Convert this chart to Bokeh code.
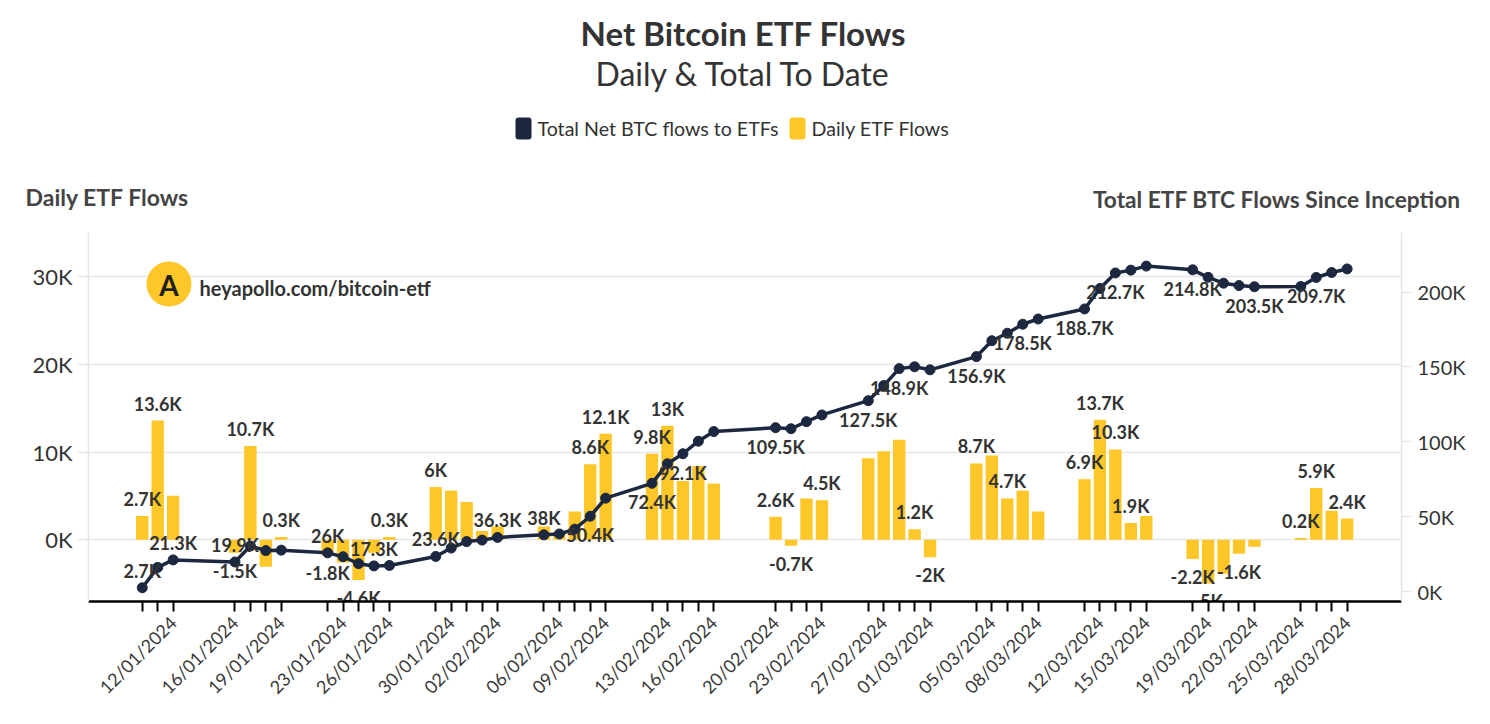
import datetime as dt
from bokeh.plotting import figure
from bokeh.layouts import column
from bokeh.models import (Range1d, LinearAxis, FixedTicker, PrintfTickFormatter, Label,
                          BoxAnnotation, ColumnDataSource, CustomJSTickFormatter)
from bokeh.core.properties import value
from bokeh.embed import file_html
from bokeh.resources import INLINE

# ---------------- data ----------------
dates = ["2024-01-10", "2024-01-11", "2024-01-12", "2024-01-16", "2024-01-17", "2024-01-18", "2024-01-19",
         "2024-01-22", "2024-01-23", "2024-01-24", "2024-01-25", "2024-01-26", "2024-01-29", "2024-01-30",
         "2024-01-31", "2024-02-01", "2024-02-02", "2024-02-05", "2024-02-06", "2024-02-07", "2024-02-08",
         "2024-02-09", "2024-02-12", "2024-02-13", "2024-02-14", "2024-02-15", "2024-02-16", "2024-02-20",
         "2024-02-21", "2024-02-22", "2024-02-23", "2024-02-26", "2024-02-27", "2024-02-28", "2024-02-29",
         "2024-03-01", "2024-03-04", "2024-03-05", "2024-03-06", "2024-03-07", "2024-03-08", "2024-03-11",
         "2024-03-12", "2024-03-13", "2024-03-14", "2024-03-15", "2024-03-18", "2024-03-19", "2024-03-20",
         "2024-03-21", "2024-03-22", "2024-03-25", "2024-03-26", "2024-03-27", "2024-03-28"]

# Daily ETF flows (thousand BTC)
daily_k = [2.7, 13.6, 5.0, -1.5, 10.7, -3.1, 0.3,
           -1.8, -2.6, -4.6, -1.5, 0.3, 6.0, 5.6,
           4.3, 1.0, 1.5, 1.5, 0.9, 3.2, 8.6,
           12.1, 9.8, 13.0, 6.7, 8.4, 6.4, 2.6,
           -0.7, 4.7, 4.5, 9.3, 10.1, 11.4, 1.2,
           -2.0, 8.7, 9.6, 4.7, 5.6, 3.2, 6.9,
           13.7, 10.3, 1.9, 2.7, -2.2, -5.0, -3.9,
           -1.6, -0.8, 0.2, 5.9, 3.3, 2.4]

# Total net BTC flows to ETFs (thousand BTC)
total_k = [2.7, 16.3, 21.3, 19.9, 30.6, 27.5, 27.8,
           26.0, 23.4, 18.8, 17.3, 17.6, 23.6, 29.2,
           33.5, 34.5, 36.3, 38.0, 38.6, 41.8, 50.4,
           62.5, 72.4, 85.4, 92.1, 100.5, 106.9, 109.5,
           108.8, 113.5, 118.0, 127.5, 137.6, 148.9, 150.1,
           148.1, 156.9, 167.5, 172.5, 178.5, 182.0, 188.7,
           202.4, 212.7, 214.6, 217.3, 214.8, 209.8, 205.9,
           204.3, 203.5, 203.7, 209.7, 213.0, 215.4]

daily_labelled = ["2024-01-10", "2024-01-11", "2024-01-16", "2024-01-17", "2024-01-19", "2024-01-22",
                  "2024-01-24", "2024-01-26", "2024-01-29", "2024-02-08", "2024-02-09", "2024-02-12",
                  "2024-02-13", "2024-02-20", "2024-02-21", "2024-02-23", "2024-02-29", "2024-03-01",
                  "2024-03-04", "2024-03-06", "2024-03-11", "2024-03-12", "2024-03-13", "2024-03-14",
                  "2024-03-18", "2024-03-19", "2024-03-21", "2024-03-25", "2024-03-26", "2024-03-28"]
total_labelled_above = ["2024-01-10", "2024-01-12", "2024-01-16", "2024-01-22", "2024-01-25",
                        "2024-01-29", "2024-02-02", "2024-02-05"]
total_labelled_below = ["2024-02-08", "2024-02-12", "2024-02-14", "2024-02-20", "2024-02-26",
                        "2024-02-28", "2024-03-04", "2024-03-07", "2024-03-11", "2024-03-13",
                        "2024-03-18", "2024-03-22", "2024-03-26"]

x_tick_labels = ["12/01/2024", "16/01/2024", "19/01/2024", "23/01/2024", "26/01/2024", "30/01/2024",
                 "02/02/2024", "06/02/2024", "09/02/2024", "13/02/2024", "16/02/2024", "20/02/2024",
                 "23/02/2024", "27/02/2024", "01/03/2024", "05/03/2024", "08/03/2024", "12/03/2024",
                 "15/03/2024", "19/03/2024", "22/03/2024", "25/03/2024", "28/03/2024"]

left_ticks = [0, 10, 20, 30]
right_ticks = [0, 50, 100, 150, 200]

title_text = "Net Bitcoin ETF Flows"
subtitle_text = "Daily & Total To Date"
legend_labels = ["Total Net BTC flows to ETFs", "Daily ETF Flows"]
left_axis_title = "Daily ETF Flows"
right_axis_title = "Total ETF BTC Flows Since Inception"
logo_text = "heyapollo.com/bitcoin-etf"

# ---------------- helpers ----------------
DAY = 86400000.0


def to_ms(s):
    d = dt.datetime.strptime(s, "%Y-%m-%d").replace(tzinfo=dt.timezone.utc)
    return d.timestamp() * 1000.0


def fmt(v):
    s = f"{v:.1f}"
    if s.endswith(".0"):
        s = s[:-2]
    return s + "K"


xs = [to_ms(d) for d in dates]

FONT = "Lato"
TXT = "#333333"
YELLOW = "#FDC629"
NAVY = "#1B2840"
GRID = "#e6e6e6"

W = 1474
HEAD_H = 232          # header strip height (px)
H = 708 - HEAD_H      # main chart height

# ---------------- header figure (frame = whole canvas) ----------------
hd = figure(width=W, height=HEAD_H, output_backend="svg", toolbar_location=None,
            x_range=Range1d(0, W), y_range=Range1d(HEAD_H, 0),
            x_axis_location=None, y_axis_location=None,
            min_border=0, min_border_left=0, min_border_right=0, min_border_top=0, min_border_bottom=0)
hd.frame_align = False
hd.grid.visible = False
hd.outline_line_color = None
hd.background_fill_color = "white"
hd.border_fill_color = "white"


def hlabel(text, X, Y, size, bold=False, align="left", color=TXT):
    hd.add_layout(Label(x=X, y=Y, x_units="canvas", y_units="canvas", text=text,
                        text_font=FONT, text_font_size=size, text_font_style="bold" if bold else "normal",
                        text_color=color, text_align=align, text_baseline="middle"))


hlabel(title_text, 743, 32, "33px", bold=True, align="center")
hlabel(subtitle_text, 743, 73, "32px", align="center")
for (x0, x1, col) in [(515, 531, NAVY), (789, 805, YELLOW)]:
    hd.add_layout(BoxAnnotation(left=x0, right=x1, top=117, bottom=139,
                                left_units="canvas", right_units="canvas", top_units="canvas",
                                bottom_units="canvas", fill_color=col, fill_alpha=1.0,
                                line_color=None, border_radius=3))
hlabel(legend_labels[0], 537, 128, "19.6px")
hlabel(legend_labels[1], 811, 128, "19.6px")
hlabel(left_axis_title, 25, 196, "23px", bold=True, color="#444444")
hlabel(right_axis_title, 1460, 199, "22.7px", bold=True, align="right", color="#444444")

# ---------------- main figure ----------------
# frame (page px): left 88, right 1401, top 232, bottom 602
x_start = to_ms("2024-01-10") - 3.48 * DAY
x_end = x_start + 85.0 * DAY

p = figure(width=W, height=H, output_backend="svg", toolbar_location=None,
           x_axis_type="datetime", x_range=Range1d(x_start, x_end),
           y_range=Range1d(-7.06, 35.06),
           min_border_left=88, min_border_right=W - 1401, min_border_top=0, min_border_bottom=708 - 602)
p.frame_align = False
p.outline_line_color = None
p.background_fill_color = "white"
p.border_fill_color = "white"
p.extra_y_ranges = {"right": Range1d(-6.45, 239.7)}

p.xgrid.visible = False
p.ygrid.grid_line_color = GRID
p.ygrid.grid_line_width = 1.5
p.ygrid.ticker = FixedTicker(ticks=left_ticks)

la = p.yaxis[0]
la.ticker = FixedTicker(ticks=left_ticks)
la.formatter = PrintfTickFormatter(format="%dK")
la.axis_line_color = GRID
la.axis_line_width = 1.5
la.major_tick_line_color = GRID
la.major_tick_line_width = 1.5
la.major_tick_out = 10
la.major_tick_in = 0
la.minor_tick_line_color = None
la.major_label_standoff = 6
la.major_label_text_font = FONT
la.major_label_text_font_size = "22px"
la.major_label_text_color = TXT

ra = LinearAxis(y_range_name="right", ticker=FixedTicker(ticks=right_ticks),
                formatter=PrintfTickFormatter(format="%dK"))
ra.axis_line_color = GRID
ra.axis_line_width = 1.5
ra.major_tick_line_color = GRID
ra.major_tick_line_width = 1.5
ra.major_tick_out = 10
ra.major_tick_in = 0
ra.minor_tick_line_color = None
ra.major_label_standoff = 6
ra.major_label_text_font = FONT
ra.major_label_text_font_size = "20px"
ra.major_label_text_color = TXT
p.add_layout(ra, "right")

xa = p.xaxis[0]
xa.ticker = FixedTicker(ticks=xs)
label_map = {}
for d, x in zip(dates, xs):
    lab = dt.datetime.strptime(d, "%Y-%m-%d").strftime("%d/%m/%Y")
    label_map[str(int(x))] = lab if lab in x_tick_labels else ""
xa.formatter = CustomJSTickFormatter(args=dict(m=label_map),
                                     code="const k = String(Math.round(tick)); return (k in m) ? m[k] : '';")
xa.major_label_orientation = 0.785398
xa.axis_line_color = "black"
xa.axis_line_width = 2.5
xa.major_tick_line_color = "black"
xa.major_tick_line_width = 2
xa.major_tick_out = 10
xa.major_tick_in = 0
xa.minor_tick_line_color = None
xa.major_label_standoff = 8
xa.major_label_text_font = FONT
xa.major_label_text_font_size = "18px"
xa.major_label_text_color = "#3a3a3a"

# bars
bar_src = ColumnDataSource(dict(x=xs, top=daily_k))
p.vbar(x="x", top="top", bottom=0, width=0.8 * DAY, source=bar_src,
       fill_color=YELLOW, line_color=None)

# line + dots
line_src = ColumnDataSource(dict(x=xs, y=total_k))
p.line(x="x", y="y", source=line_src, y_range_name="right", line_color=NAVY, line_width=3.5)
p.scatter(x="x", y="y", source=line_src, y_range_name="right", size=10,
          fill_color=NAVY, line_color=NAVY)

# bar labels
bl = dict(x=[], y=[], text=[], yoff=[])
for d, x, v in zip(dates, xs, daily_k):
    if d in daily_labelled:
        bl["x"].append(x)
        bl["y"].append(v)
        bl["text"].append(fmt(v))
        bl["yoff"].append(-17 if v >= 0 else 18)
p.text(x="x", y="y", text="text", y_offset="yoff", source=ColumnDataSource(bl),
       text_font=value(FONT), text_font_style="bold", text_font_size="18px",
       text_color=TXT, text_align="center", text_baseline="middle")

# total labels
tl = dict(x=[], y=[], text=[], yoff=[])
for d, x, v in zip(dates, xs, total_k):
    if d in total_labelled_above or d in total_labelled_below:
        tl["x"].append(x)
        tl["y"].append(v)
        tl["text"].append(fmt(v))
        tl["yoff"].append(-17 if d in total_labelled_above else 19)
p.text(x="x", y="y", text="text", y_offset="yoff", source=ColumnDataSource(tl), y_range_name="right",
       text_font=value(FONT), text_font_style="bold", text_font_size="18px",
       text_color=TXT, text_align="center", text_baseline="middle")

# logo (inside the frame) - canvas units of the main figure (its top = page y 232)
p.add_layout(BoxAnnotation(left=146, right=191, top=261 - HEAD_H, bottom=306 - HEAD_H,
                           left_units="canvas", right_units="canvas", top_units="canvas",
                           bottom_units="canvas", fill_color=YELLOW, fill_alpha=1.0,
                           line_color=None, border_radius=23))
p.add_layout(Label(x=168.5, y=284 - HEAD_H, x_units="canvas", y_units="canvas", text="A",
                   text_font=FONT, text_font_size="28px", text_font_style="bold",
                   text_color="#1f1f1f", text_align="center", text_baseline="middle"))
p.add_layout(Label(x=199, y=287 - HEAD_H, x_units="canvas", y_units="canvas", text=logo_text,
                   text_font=FONT, text_font_size="20px", text_font_style="bold",
                   text_color=TXT, text_align="left", text_baseline="middle"))

layout = column(hd, p, spacing=0)
open("out.html", "w").write(file_html(layout, INLINE))
